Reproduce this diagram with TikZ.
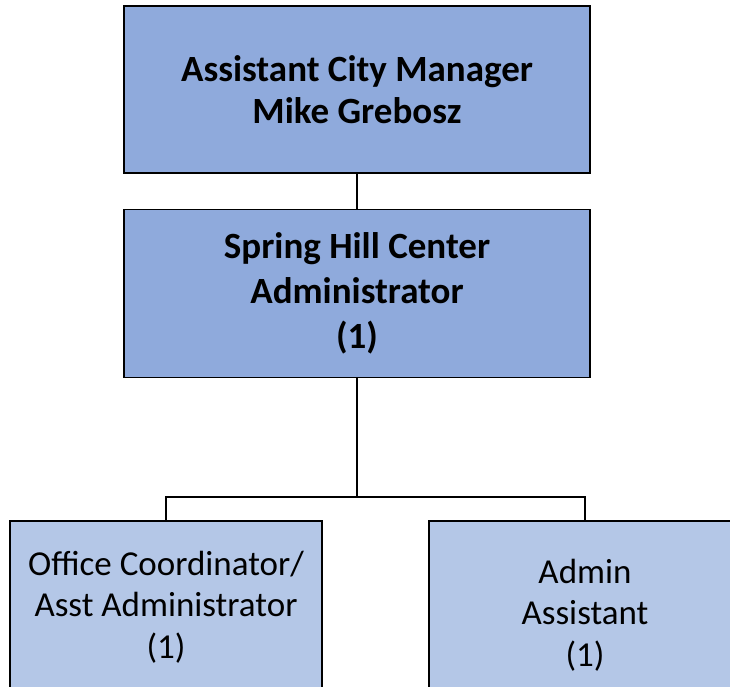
\documentclass[tikz,border=0pt]{standalone}
\usepackage{fontspec}
\setmainfont{Carlito}
\definecolor{cdark}{HTML}{8FAADC}
\definecolor{clight}{HTML}{B4C7E7}
\begin{document}
\begin{tikzpicture}[x=1pt,y=1pt,
  box/.style={draw=black, line width=1.5pt, align=center, inner sep=0pt, outer sep=0pt},
  upper/.style={box, fill=cdark, minimum width=466pt},
  lower/.style={box, fill=clight, minimum width=312pt, font=\fontsize{35}{41.5}\selectfont},
  conn/.style={draw=black, line width=1.5pt}]
\useasboundingbox (0,0) rectangle (730,-687);
\clip (0,0) rectangle (730,-687);
\node[upper, minimum height=167pt, font=\bfseries\fontsize{37}{42}\selectfont] (acm) at (357,-89.5) {Assistant City Manager\\Mike Grebosz};
\node[upper, minimum height=168pt, font=\bfseries\fontsize{37}{45}\selectfont] (shc) at (357,-293.5) {Spring Hill Center\\Administrator\\(1)};
\node[lower, minimum height=172pt] (oc) at (166,-607) {Office Coordinator/\\Asst Administrator\\(1)};
\node[lower, minimum height=188pt] (aa) at (585,-615) {Admin\\Assistant\\(1)};
\coordinate (j) at (357,-497);
\draw[conn, line width=2.2pt] (acm.south) -- (shc.north);
\draw[conn] (shc.south) -- (j);
\draw[conn] (oc.north) -- (oc.north |- j) -- (aa.north |- j) -- (aa.north);
\end{tikzpicture}
\end{document}
